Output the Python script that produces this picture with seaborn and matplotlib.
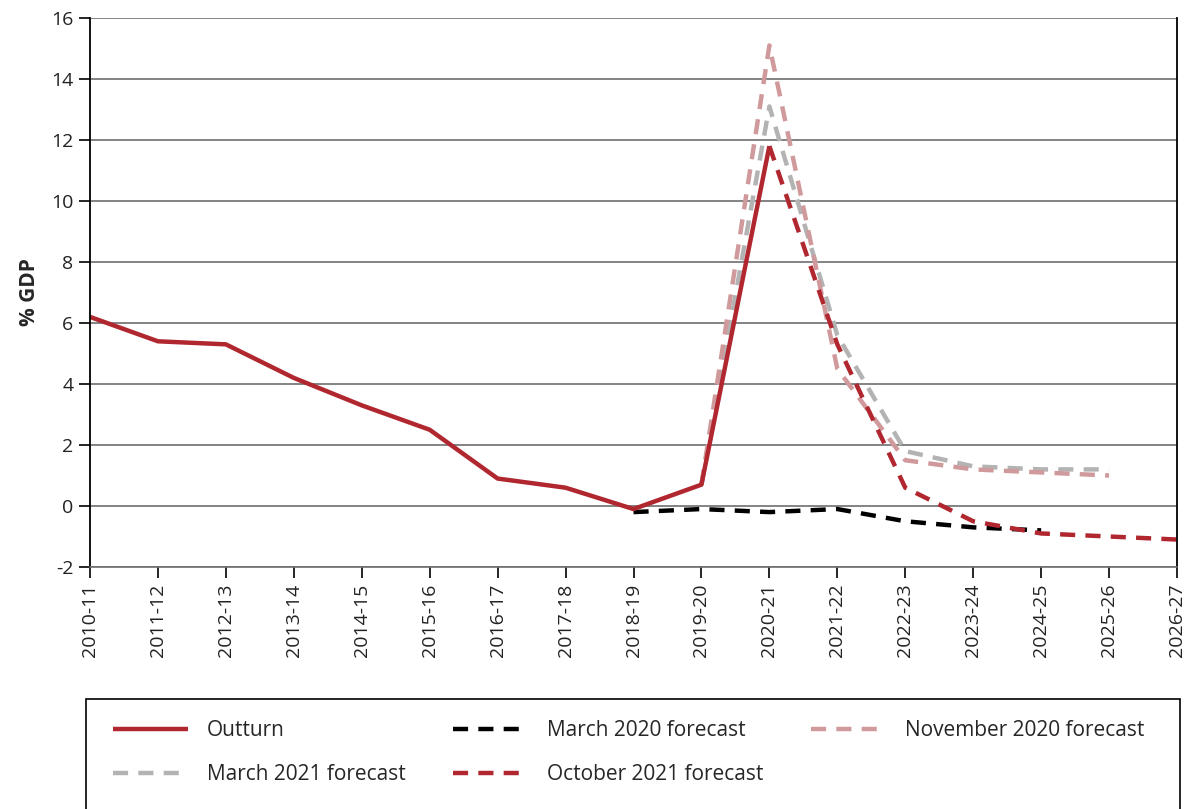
import numpy as np
import pandas as pd
import matplotlib
matplotlib.use("Agg")
import matplotlib.pyplot as plt
from matplotlib.patches import Rectangle
import seaborn as sns

years = ["2010-11", "2011-12", "2012-13", "2013-14", "2014-15", "2015-16",
         "2016-17", "2017-18", "2018-19", "2019-20", "2020-21", "2021-22",
         "2022-23", "2023-24", "2024-25", "2025-26", "2026-27"]

# each series: first year index + values
outturn = [6.2, 5.4, 5.3, 4.2, 3.3, 2.5, 0.9, 0.6, -0.1, 0.7, 11.8]
outturn_start = 0
march_2020 = [-0.2, -0.1, -0.2, -0.1, -0.5, -0.7, -0.8]
march_2020_start = 8
november_2020 = [0.7, 15.1, 4.5, 1.5, 1.2, 1.1, 1.0]
november_2020_start = 9
march_2021 = [0.7, 13.1, 5.6, 1.8, 1.3, 1.2, 1.2]
march_2021_start = 9
october_2021 = [11.8, 5.3, 0.6, -0.5, -0.9, -1.0, -1.1]
october_2021_start = 10

sns.set_style("white")
plt.rcParams["font.family"] = ["Open Sans", "DejaVu Sans"]

fig = plt.figure(figsize=(11.92, 8.09), dpi=100)
ax = fig.add_axes([90 / 1192, 1 - 567 / 809, (1177 - 90) / 1192, (567 - 18) / 809])


def frame(vals, start, name):
    return pd.DataFrame({"x": np.arange(start, start + len(vals)), "y": vals, "s": name})


red = "#B0272F"
pink = "#D09A9C"
grey = "#B3B3B3"
dash = (3.4, 2.3)

series = [
    (frame(march_2021, march_2021_start, "March 2021 forecast"), grey, dash),
    (frame(november_2020, november_2020_start, "November 2020 forecast"), pink, dash),
    (frame(march_2020, march_2020_start, "March 2020 forecast"), "black", dash),
    (frame(october_2021, october_2021_start, "October 2021 forecast"), red, dash),
    (frame(outturn, outturn_start, "Outturn"), red, None),
]
handles = {}
for df, col, ds in series:
    sns.lineplot(data=df, x="x", y="y", color=col, lw=3.2, ax=ax, legend=False)
    ln = ax.lines[-1]
    if ds is not None:
        ln.set_dashes(ds)
    ln.set_solid_capstyle("butt")
    handles[df["s"].iloc[0]] = ln

ax.set_xlim(0, len(years) - 1)
ax.set_ylim(-2, 16)
ax.set_yticks(np.arange(-2, 17, 2))
ax.set_yticklabels([str(v) for v in range(-2, 17, 2)], fontsize=14, color="#222222")
ax.set_xticks(range(len(years)))
ax.set_xticklabels(years, rotation=90, fontsize=14, color="#222222")
ax.set_xlabel("")
ax.set_ylabel("% GDP", fontsize=15, fontweight="bold", labelpad=8)
ax.yaxis.grid(True, color="#6E6E6E", lw=1.2)
ax.tick_params(axis="both", direction="out", length=8, width=1.2, color="black",
               left=True, bottom=True, pad=4)
for s in ["left", "right"]:
    ax.spines[s].set_color("black")
    ax.spines[s].set_linewidth(1.3)
ax.spines["bottom"].set_color("#6E6E6E")
ax.spines["bottom"].set_linewidth(1.2)
ax.spines["top"].set_visible(False)

# legend box running off the bottom edge, as in the source
fig.patches.append(Rectangle((86 / 1192, -0.02), (1180 - 86) / 1192, 0.02 + 1 - 699 / 809,
                             transform=fig.transFigure, fill=False,
                             edgecolor="black", lw=1.2))

order = ["Outturn", "March 2021 forecast", "March 2020 forecast",
         "October 2021 forecast", "November 2020 forecast"]
leg = fig.legend([handles[k] for k in order], order, ncol=3,
                 loc="upper left", bbox_to_anchor=(113 / 1192, 1 - 720 / 809),
                 frameon=False, fontsize=15, handlelength=3.6, handletextpad=0.9,
                 columnspacing=2.3, borderpad=0, labelspacing=1.1,
                 borderaxespad=0)

fig.savefig("out.png", dpi=100)
